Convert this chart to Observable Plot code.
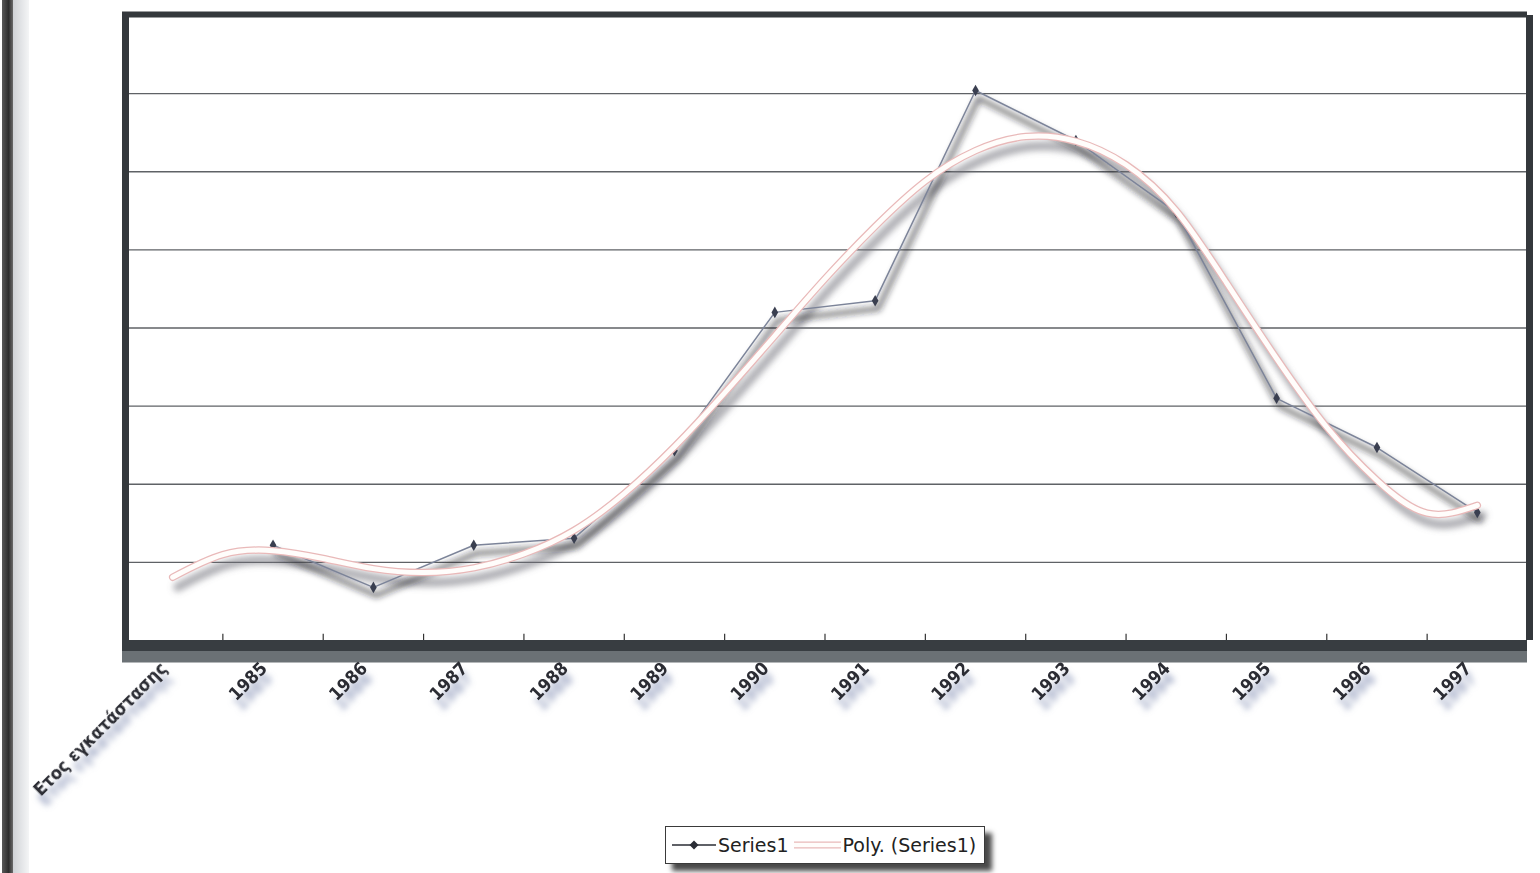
<!DOCTYPE html>
<html>
<head>
<meta charset="utf-8">
<script src="https://cdn.jsdelivr.net/npm/d3@7"></script>
<script src="https://cdn.jsdelivr.net/npm/@observablehq/plot@0.6"></script>
<style>
  html, body { margin: 0; padding: 0; background: #ffffff; }
  body { width: 1540px; height: 873px; position: relative; overflow: hidden; font-family: "DejaVu Sans", sans-serif; }
  #edge { position: absolute; left: 2px; top: 0; width: 11px; height: 873px; background: linear-gradient(to right, #5a5a5a, #2e2e2e 60%, #6a6a6a); }
  #edge2 { position: absolute; left: 13px; top: 0; width: 16px; height: 873px; background: linear-gradient(to right, #cfd2d6, #f4f5f6); }
  #chart { position: absolute; left: 0; top: 0; }
  #legend { position: absolute; left: 665px; top: 826px; width: 318px; height: 36px; background: #fff;
            border: 1px solid #3a3a3a; box-shadow: 7px 7px 5px #4a4a4a; display: flex; align-items: center;
            font-family: "DejaVu Sans", sans-serif; font-size: 19px; color: #222; white-space: nowrap; }
  #legend .item { display: flex; align-items: center; }
  #legend svg { display: block; }
</style>
</head>
<body>
<div id="edge"></div><div id="edge2"></div>
<div id="chart"></div>
<div id="legend">
  <div class="item">
    <svg width="52" height="20"><line x1="6" y1="10" x2="50" y2="10" stroke="#2a2d35" stroke-width="1.5"/><path d="M28,5.5 L32.5,10 L28,14.5 L23.5,10 Z" fill="#2a2d35"/></svg>
    <span>Series1</span>
  </div>
  <div class="item">
    <svg width="54" height="20"><line x1="5" y1="10" x2="52" y2="10" stroke="#e9b9b9" stroke-width="7"/><line x1="5" y1="10" x2="52" y2="10" stroke="#fffdfb" stroke-width="4.5"/></svg>
    <span>Poly. (Series1)</span>
  </div>
</div>
<script>
// ---- data ----
const categories = ["Ετος εγκατάστασης", "1985", "1986", "1987", "1988", "1989", "1990", "1991", "1992", "1993", "1994", "1995", "1996", "1997"];
const series1 = [null, 12.2, 6.8, 12.2, 13.1, 24.3, 42.0, 43.5, 70.4, 64.0, 54.8, 31.0, 24.7, 16.4];
// polynomial trendline, read at every half category
const trendPositions = [0, 0.5, 1, 1.5, 2, 2.5, 3, 3.5, 4, 4.5, 5, 5.5, 6, 6.5, 7, 7.5, 8, 8.5, 9, 9.5, 10, 10.5, 11, 11.5, 12, 12.5, 13];
const trendValues = [8.1, 11.0, 11.5, 10.5, 9.2, 8.7, 9.3, 11.1, 14.1, 18.8, 24.8, 31.7, 39.0, 46.3, 53.0, 58.8, 62.7, 64.5, 63.9, 60.9, 55.0, 45.8, 36.1, 27.3, 20.5, 16.3, 17.3];
const gridValues = [10, 20, 30, 40, 50, 60, 70];
const yMax = 80;

const seriesData = categories.map((c, i) => ({i, c, v: series1[i]})).filter(d => d.v != null);
const trendData = trendPositions.map((p, k) => ({p, v: trendValues[k]}));
const labelData = categories.map((c, i) => ({i, c}));
const boundaries = d3.range(1, categories.length).map(k => k - 0.5);

const labelFont = "DejaVu Sans Condensed, DejaVu Sans, sans-serif";

const svg = Plot.plot({
  width: 1540,
  height: 815,
  marginLeft: 122,
  marginRight: 13,
  marginTop: 15,
  marginBottom: 175,
  style: {background: "transparent", overflow: "visible"},
  x: {type: "linear", domain: [-0.5, categories.length - 0.5], axis: null},
  y: {domain: [0, yMax], axis: null},
  marks: [
    // frame shadow
    Plot.ruleX([categories.length - 0.5], {stroke: "#777", strokeWidth: 8, dx: 9, dy: 6, ariaDescription: "blur"}),
    Plot.ruleY([0], {stroke: "#777", strokeWidth: 14, dy: 22, dx: 6, ariaDescription: "blur"}),
    Plot.ruleY([yMax], {stroke: "#999", strokeWidth: 6, dy: 6, ariaDescription: "blur"}),
    // gridlines
    Plot.ruleY(gridValues, {stroke: "#5f6266", strokeWidth: 1.4}),
    // tick marks
    Plot.ruleX(boundaries, {y1: 0, y2: 0.8, stroke: "#333", strokeWidth: 1.2}),
    // shadows
    Plot.line(trendData, {x: "p", y: "v", curve: "natural", stroke: "#6d7078", strokeWidth: 9, strokeOpacity: 0.55, dx: 5, dy: 10, ariaDescription: "blur"}),
    Plot.line(seriesData, {x: "i", y: "v", stroke: "#1d1f24", strokeWidth: 4.5, strokeOpacity: 0.65, dx: 3, dy: 8, ariaDescription: "blur"}),
    // Series1
    Plot.line(seriesData, {x: "i", y: "v", stroke: "#7c8499", strokeWidth: 1.5}),
    Plot.dot(seriesData, {x: "i", y: "v", symbol: "diamond", r: 3.5, fill: "#3a3f50"}),
    // Poly. (Series1)
    Plot.line(trendData, {x: "p", y: "v", curve: "natural", stroke: "#e9b9b9", strokeWidth: 7.5}),
    Plot.line(trendData, {x: "p", y: "v", curve: "natural", stroke: "#fffdfb", strokeWidth: 5}),
    // frame
    Plot.ruleX([-0.5], {stroke: "#34383c", strokeWidth: 7, dx: 3}),
    Plot.ruleX([categories.length - 0.5], {stroke: "#34383c", strokeWidth: 7, dx: 2}),
    Plot.ruleY([yMax], {stroke: "#34383c", strokeWidth: 6, dy: -1}),
    Plot.ruleY([0], {stroke: "#6b7175", strokeWidth: 22, dy: 11}),
    Plot.ruleY([0], {stroke: "#383d41", strokeWidth: 11, dy: 5}),
    // category labels with shadow
    Plot.text(labelData, {x: "i", y: 0, text: "c", rotate: -45, textAnchor: "end", dx: -4, dy: 35,
      fontSize: 18, fontWeight: "bold", fontFamily: labelFont, fill: "#8c96b8", fillOpacity: 0.85, ariaDescription: "blur"}),
    Plot.text(labelData, {x: "i", y: 0, text: "c", rotate: -45, textAnchor: "end", dx: -9, dy: 25,
      fontSize: 18, fontWeight: "bold", fontFamily: labelFont, fill: "#2b2c33"})
  ]
});

const s = d3.select(svg);
const defs = s.insert("defs", ":first-child");
const f = defs.append("filter").attr("id", "softblur").attr("x", "-20%").attr("y", "-20%").attr("width", "140%").attr("height", "140%");
f.append("feGaussianBlur").attr("stdDeviation", 3);
s.selectAll('[aria-description="blur"]').attr("filter", "url(#softblur)");

document.getElementById("chart").appendChild(svg);
</script>
</body>
</html>
